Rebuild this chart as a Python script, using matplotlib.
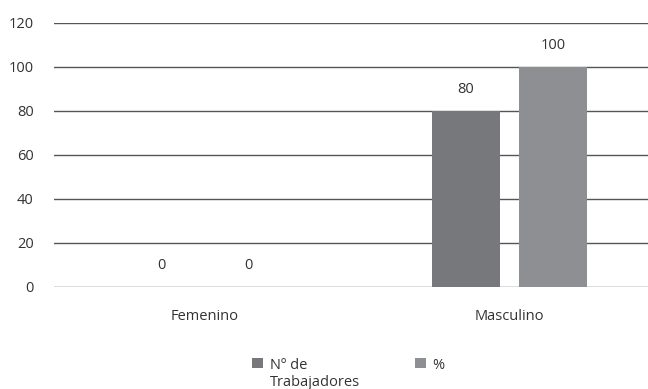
import matplotlib
matplotlib.use("Agg")
from matplotlib import pyplot as plt
from matplotlib.offsetbox import HPacker
import numpy as np

plt.rcParams['font.family'] = ['Open Sans', 'DejaVu Sans']

categories = ["Femenino", "Masculino"]
trabajadores = [0, 80]
porcentaje = [0, 100]
series_labels = ["Nº de\nTrabajadores", "%"]
yticks = [0, 20, 40, 60, 80, 100, 120]

DARK = "#77787b"
LIGHT = "#8e8f92"
TEXT = "#333333"
FS = 10.5

fig = plt.figure(figsize=(6.48, 3.89), dpi=100)
ax = fig.add_axes([54 / 648, 102 / 389, 1 - 54 / 648, 264 / 389])

x = np.arange(len(categories))
width = 0.223
offset = 0.143

b1 = ax.bar(x - offset, trabajadores, width, color=DARK, label=series_labels[0], zorder=3)
b2 = ax.bar(x + offset, porcentaje, width, color=LIGHT, label=series_labels[1], zorder=3)

for bars in (b1, b2):
    for rect in bars:
        h = rect.get_height()
        ax.text(rect.get_x() + rect.get_width() / 2, h + 6.5, f"{h:.0f}",
                ha="center", va="bottom", fontsize=FS, color=TEXT)

ax.set_xlim(-0.496, 1.455)
ax.set_ylim(0, 120)
ax.set_yticks(yticks)
ax.yaxis.grid(True, color="#555555", linewidth=1.0, zorder=0)
ax.set_xticks(x)
ax.set_xticklabels(categories)
ax.tick_params(axis="both", length=0, labelsize=FS, colors=TEXT)
ax.tick_params(axis="x", pad=15.7)
ax.tick_params(axis="y", pad=14.5)
for s in ax.spines.values():
    s.set_visible(False)

leg = fig.legend(loc="upper left", bbox_to_anchor=(252 / 648, 1 - 358 / 389),
                 ncol=2, frameon=False, fontsize=FS, handlelength=0.75,
                 handleheight=0.7, handletextpad=0.45, columnspacing=3.8,
                 borderpad=0, borderaxespad=0, labelcolor=TEXT)
# line the colour boxes and columns up with the first line of each label
for box in leg.findobj(HPacker):
    box.align = "top"

fig.savefig("out.png", dpi=100)
